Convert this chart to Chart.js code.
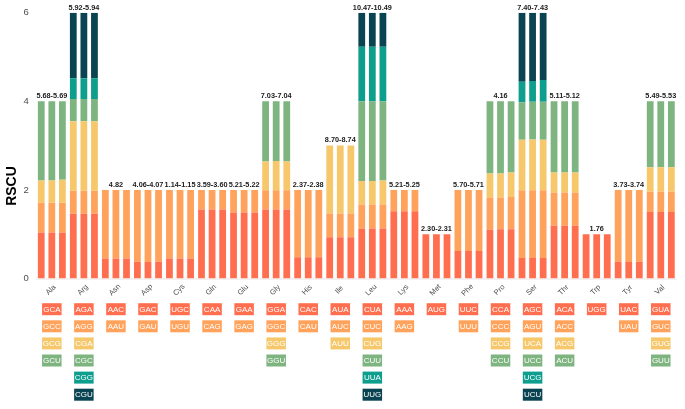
<!DOCTYPE html>
<html><head><meta charset="utf-8">
<script src="https://cdn.jsdelivr.net/npm/chart.js@4/dist/chart.umd.min.js"></script>
<style>html,body{margin:0;padding:0;background:#fff;}</style>
</head><body>
<canvas id="c" width="685" height="409"></canvas>
<script>
const aminoAcids = ["Ala","Arg","Asn","Asp","Cys","Gln","Glu","Gly","His","Ile","Leu","Lys","Met","Phe","Pro","Ser","Thr","Trp","Tyr","Val"];
const codons = [
  ["GCA","GCC","GCG","GCU"],
  ["AGA","AGG","CGA","CGC","CGG","CGU"],
  ["AAC","AAU"],
  ["GAC","GAU"],
  ["UGC","UGU"],
  ["CAA","CAG"],
  ["GAA","GAG"],
  ["GGA","GGC","GGG","GGU"],
  ["CAC","CAU"],
  ["AUA","AUC","AUU"],
  ["CUA","CUC","CUG","CUU","UUA","UUG"],
  ["AAA","AAG"],
  ["AUG"],
  ["UUC","UUU"],
  ["CCA","CCC","CCG","CCU"],
  ["AGC","AGU","UCA","UCC","UCG","UCU"],
  ["ACA","ACC","ACG","ACU"],
  ["UGG"],
  ["UAC","UAU"],
  ["GUA","GUC","GUG","GUU"]
];
const rscuSample1 = [
  [1.04,0.67,0.50,1.79],
  [1.46,0.52,1.57,0.50,0.47,1.48],
  [0.45,1.55],
  [0.38,1.62],
  [0.45,1.55],
  [1.56,0.44],
  [1.49,0.51],
  [1.56,0.43,0.65,1.36],
  [0.48,1.52],
  [0.93,0.54,1.53],
  [1.13,0.54,0.53,1.80,1.23,0.77],
  [1.52,0.48],
  [1.00],
  [0.62,1.38],
  [1.10,0.73,0.54,1.63],
  [0.46,1.53,1.14,0.85,0.46,1.56],
  [1.19,0.75,0.45,1.61],
  [1.00],
  [0.38,1.62],
  [1.50,0.46,0.55,1.49]
];
const rscuSample2 = [
  [1.04,0.67,0.50,1.79],
  [1.46,0.52,1.57,0.50,0.47,1.48],
  [0.45,1.55],
  [0.37,1.63],
  [0.45,1.55],
  [1.56,0.44],
  [1.49,0.51],
  [1.56,0.43,0.66,1.35],
  [0.48,1.52],
  [0.93,0.54,1.53],
  [1.13,0.54,0.53,1.80,1.23,0.77],
  [1.52,0.48],
  [1.00],
  [0.62,1.38],
  [1.11,0.72,0.54,1.63],
  [0.46,1.53,1.15,0.85,0.47,1.54],
  [1.19,0.75,0.45,1.61],
  [1.00],
  [0.37,1.63],
  [1.50,0.46,0.55,1.49]
];
const rscuSample3 = [
  [1.04,0.67,0.52,1.77],
  [1.46,0.52,1.57,0.50,0.47,1.48],
  [0.45,1.55],
  [0.38,1.62],
  [0.45,1.55],
  [1.56,0.44],
  [1.49,0.51],
  [1.56,0.43,0.65,1.36],
  [0.48,1.52],
  [0.93,0.54,1.53],
  [1.13,0.54,0.54,1.79,1.23,0.77],
  [1.52,0.48],
  [1.00],
  [0.62,1.38],
  [1.11,0.73,0.55,1.61],
  [0.46,1.53,1.14,0.86,0.49,1.52],
  [1.19,0.75,0.45,1.61],
  [1.00],
  [0.38,1.62],
  [1.50,0.46,0.55,1.49]
];
const freqLabels = ["5.68-5.69","5.92-5.94","4.82","4.06-4.07","1.14-1.15","3.59-3.60","5.21-5.22","7.03-7.04","2.37-2.38","8.70-8.74","10.47-10.49","5.21-5.25","2.30-2.31","5.70-5.71","4.16","7.40-7.43","5.11-5.12","1.76","3.73-3.74","5.49-5.53"];
const yTicks = [0,2,4,6];
const levelColors = ["#FF6F4F","#FFA35C","#F6C86B","#7DB47F","#0E9E8E","#0A4452"];

const samples = [rscuSample1, rscuSample2, rscuSample3];
const datasets = [];
samples.forEach((s, si) => {
  for (let k = 0; k < 6; k++) {
    datasets.push({
      label: "S" + (si + 1) + "-" + k,
      data: s.map(v => (v[k] !== undefined ? v[k] : null)),
      backgroundColor: levelColors[k],
      borderWidth: 0,
      stack: "s" + si,
      categoryPercentage: 0.99,
      barPercentage: 0.64
    });
  }
});

const overlay = {
  id: "overlay",
  beforeDatasetsDraw(chart) {
    const ctx = chart.ctx, a = chart.chartArea;
    ctx.save();
    ctx.strokeStyle = "#E6E6E6";
    ctx.lineWidth = 1;
    ctx.beginPath();
    ctx.moveTo(a.left, a.bottom + 0.5);
    ctx.lineTo(a.right, a.bottom + 0.5);
    ctx.stroke();
    ctx.restore();
  },
  afterDraw(chart) {
    const ctx = chart.ctx, xs = chart.scales.x, ys = chart.scales.y;
    ctx.save();
    ctx.translate(12, 186);
    ctx.rotate(-Math.PI / 2);
    ctx.fillStyle = "#000";
    ctx.font = "bold 14px 'Liberation Sans', Arial, sans-serif";
    ctx.textAlign = "center";
    ctx.textBaseline = "middle";
    ctx.fillText("RSCU", 0, 0);
    ctx.restore();

    aminoAcids.forEach((aa, i) => {
      const cx = xs.getPixelForValue(i);
      ctx.save();
      ctx.translate(cx - 1, 290);
      ctx.rotate(-Math.PI / 4);
      ctx.fillStyle = "#4D4D4D";
      ctx.font = "7.5px 'Liberation Sans', Arial, sans-serif";
      ctx.textAlign = "center";
      ctx.textBaseline = "middle";
      ctx.fillText(aa, 0, 0);
      ctx.restore();

      const tops = samples.map(s => s[i].reduce((p, q) => p + q, 0));
      const maxTop = Math.max(...tops);
      ctx.save();
      ctx.fillStyle = "#1A1A1A";
      ctx.font = "bold 7.3px 'Liberation Sans', Arial, sans-serif";
      ctx.textAlign = "center";
      ctx.textBaseline = "bottom";
      ctx.fillText(freqLabels[i], cx, ys.getPixelForValue(maxTop) - 1.5);
      ctx.restore();

      codons[i].forEach((cd, k) => {
        const cy = 309.2 + 17.1 * k;
        const w = 19.5, h = 12;
        ctx.save();
        ctx.fillStyle = levelColors[k];
        ctx.fillRect(cx - w / 2, cy - h / 2, w, h);
        ctx.fillStyle = "#FFFFFF";
        ctx.font = "8px 'Liberation Sans', Arial, sans-serif";
        ctx.textAlign = "center";
        ctx.textBaseline = "middle";
        ctx.fillText(cd, cx, cy + 0.5);
        ctx.restore();
      });
    });
  }
};

new Chart(document.getElementById("c"), {
  type: "bar",
  data: { labels: aminoAcids, datasets: datasets },
  options: {
    responsive: false,
    animation: false,
    devicePixelRatio: 1,
    layout: { padding: { left: 0, right: 8.2, top: 12, bottom: 130.5 } },
    plugins: { legend: { display: false }, tooltip: { enabled: false } },
    scales: {
      x: { display: false, stacked: true, offset: true },
      y: {
        stacked: true,
        min: 0, max: 6,
        afterBuildTicks: s => { s.ticks = yTicks.map(v => ({ value: v })); },
        afterFit: s => { s.width = 35.8; },
        grid: { display: false, drawTicks: false },
        border: { display: false },
        ticks: {
          padding: 7,
          color: "#4D4D4D",
          font: { family: "'Liberation Sans', Arial, sans-serif", size: 9.5 }
        }
      }
    }
  },
  plugins: [overlay]
});
</script>
</body></html>
